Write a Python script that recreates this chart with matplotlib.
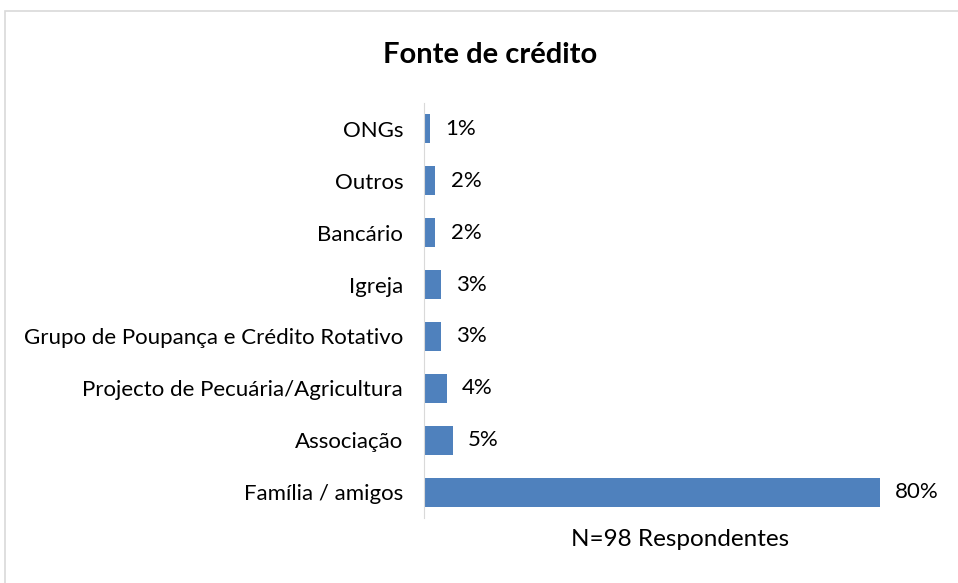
import matplotlib
matplotlib.use("Agg")
import matplotlib.pyplot as plt
from matplotlib.patches import Rectangle

plt.rcParams['font.family'] = ['Lato', 'DejaVu Sans']

fontes = ["Família / amigos", "Associação", "Projecto de Pecuária/Agricultura",
          "Grupo de Poupança e Crédito Rotativo", "Igreja", "Bancário",
          "Outros", "ONGs"]
percent = [80, 5, 4, 3, 3, 2, 2, 1]
titulo = "Fonte de crédito"
nota = "N=98 Respondentes"

W, H = 958, 583
fig = plt.figure(figsize=(W / 100, H / 100), dpi=100)

# moldura cinzenta clara à volta do gráfico
fig.patches.append(Rectangle((5 / W, -0.05), 1.0, 1 - 11 / H + 0.05,
                             transform=fig.transFigure, fill=False,
                             edgecolor="#d9d9d9", linewidth=1.2))

ax = fig.add_axes([424 / W, 1 - 518 / H, 513 / W, 415 / H])
y = range(len(fontes))
ax.barh(y, percent, height=0.56, color="#4F81BD")
ax.set_xlim(0, 90)
ax.set_ylim(-0.5, len(fontes) - 0.5)
ax.set_yticks(list(y))
ax.set_yticklabels(fontes, fontsize=16)
ax.tick_params(axis="y", length=0, pad=15)
ax.set_xticks([])
for s in ["top", "right", "bottom"]:
    ax.spines[s].set_visible(False)
ax.spines["left"].set_color("#d9d9d9")

for i, v in enumerate(percent):
    ax.annotate(f"{v}%", (v, i), xytext=(11, 0), textcoords="offset points",
                va="center", ha="left", fontsize=16)

ax.set_xlabel(nota, fontsize=17.5, labelpad=8)
fig.text(490 / W, 1 - 55 / H, titulo, ha="center", va="center",
         fontsize=21, fontweight="bold")

fig.savefig("out.png", dpi=100)
